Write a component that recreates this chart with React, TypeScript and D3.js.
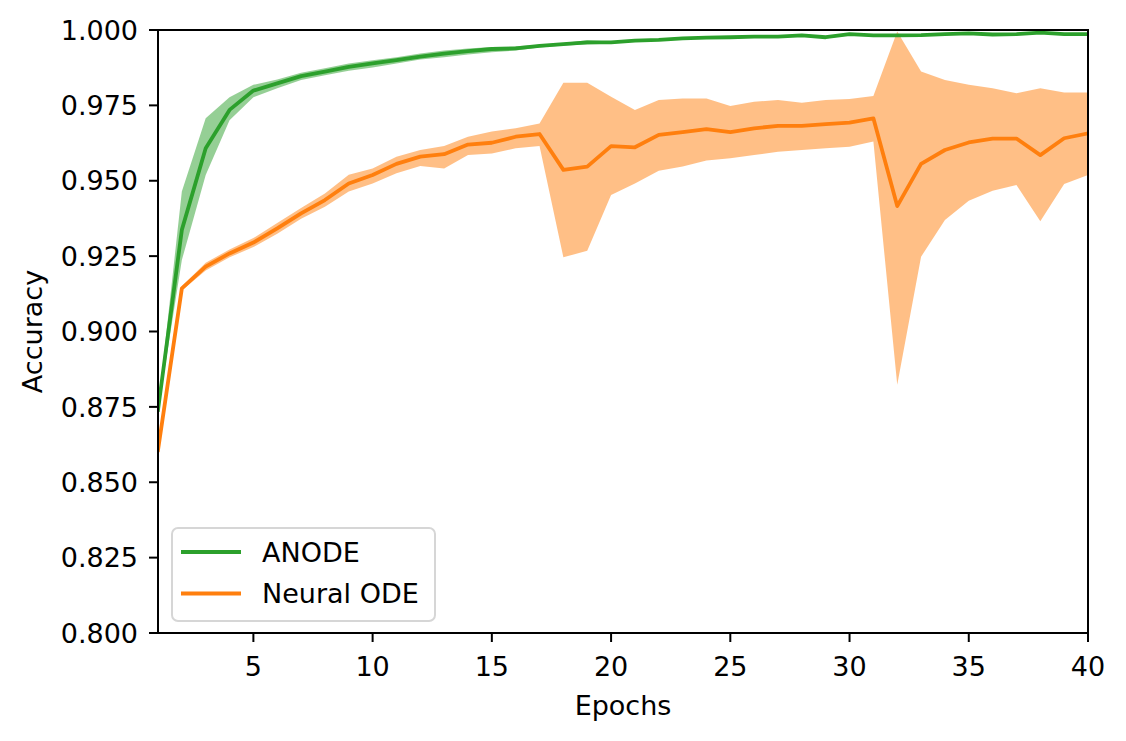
import React from 'react';
import * as d3 from 'd3';

// values
const epochs = d3.range(1, 41);

const anodeMean = [
  0.874, 0.9337, 0.9608, 0.9735, 0.9799, 0.9823, 0.9847, 0.9862, 0.9878, 0.9889,
  0.99, 0.9912, 0.9922, 0.993, 0.9937, 0.9939, 0.9947, 0.9953, 0.9959, 0.9959,
  0.9965, 0.9967, 0.9972, 0.9975, 0.9976, 0.9978, 0.9978, 0.9982, 0.9976, 0.9986,
  0.9982, 0.9982, 0.9983, 0.9986, 0.9989, 0.9985, 0.9986, 0.9991, 0.9986, 0.9986,
];
const anodeHigh = [
  0.8745, 0.9464, 0.9707, 0.9777, 0.9818, 0.9836, 0.9858, 0.9873, 0.9889, 0.99,
  0.991, 0.9922, 0.9932, 0.9939, 0.9944, 0.9946, 0.9951, 0.9957, 0.9966, 0.9962,
  0.9968, 0.997, 0.9975, 0.9978, 0.9979, 0.9981, 0.9981, 0.9985, 0.998, 0.9989,
  0.9985, 0.9985, 0.9986, 0.9989, 0.9992, 0.9988, 0.9989, 0.9994, 0.9989, 0.9989,
];
const anodeLow = [
  0.8735, 0.9237, 0.9519, 0.9701, 0.9777, 0.9807, 0.9834, 0.985, 0.9865, 0.9876,
  0.9889, 0.9902, 0.991, 0.9919, 0.9926, 0.9932, 0.9942, 0.9949, 0.9952, 0.9955,
  0.9961, 0.9964, 0.9969, 0.9972, 0.9973, 0.9975, 0.9975, 0.9979, 0.9972, 0.9983,
  0.9979, 0.9979, 0.998, 0.9983, 0.9986, 0.9982, 0.9983, 0.9988, 0.9983, 0.9983,
];

const nodeMean = [
  0.8607, 0.9143, 0.9215, 0.9259, 0.9295, 0.9342, 0.9392, 0.9436, 0.9491, 0.9519,
  0.9556, 0.958, 0.9588, 0.962, 0.9626, 0.9646, 0.9655, 0.9536, 0.9547, 0.9615,
  0.9611, 0.9652, 0.9661, 0.9671, 0.9661, 0.9674, 0.9682, 0.9682, 0.9688, 0.9693,
  0.9707, 0.9416, 0.9556, 0.9602, 0.9627, 0.964, 0.964, 0.9585, 0.9641, 0.9657,
];
const nodeHigh = [
  0.8612, 0.915, 0.9228, 0.9272, 0.931, 0.936, 0.941, 0.9458, 0.952, 0.9541,
  0.958, 0.9602, 0.9615, 0.9646, 0.9663, 0.9674, 0.969, 0.9825, 0.9825, 0.9779,
  0.9735, 0.9768, 0.9773, 0.9773, 0.9748, 0.9762, 0.9768, 0.9759, 0.9768, 0.9771,
  0.9781, 0.9995, 0.9862, 0.9834, 0.9818, 0.9807, 0.979, 0.9807, 0.9793, 0.9793,
];
const nodeLow = [
  0.8602, 0.9136, 0.9202, 0.9246, 0.928, 0.9324, 0.9374, 0.9414, 0.9464, 0.9491,
  0.9525, 0.9549, 0.9541, 0.9585, 0.959, 0.9608, 0.9615, 0.9246, 0.9268, 0.9453,
  0.9491, 0.9533, 0.9547, 0.9567, 0.9575, 0.9585, 0.9596, 0.9602, 0.9608, 0.9613,
  0.963, 0.8823, 0.9248, 0.937, 0.9434, 0.9467, 0.9486, 0.9366, 0.9489, 0.9519,
];

const xTicks = [5, 10, 15, 20, 25, 30, 35, 40];
const yTicks = [0.8, 0.825, 0.85, 0.875, 0.9, 0.925, 0.95, 0.975, 1.0];

interface Series {
  name: string;
  color: string;
  mean: number[];
  low: number[];
  high: number[];
}

const series: Series[] = [
  { name: 'ANODE', color: '#2ca02c', mean: anodeMean, low: anodeLow, high: anodeHigh },
  { name: 'Neural ODE', color: '#ff7f0e', mean: nodeMean, low: nodeLow, high: nodeHigh },
];

const W = 1126;
const H = 741;
const margin = { top: 30, right: 38, bottom: 108, left: 158 };
const font = 'DejaVu Sans, sans-serif';
const fs = 27;

const App: React.FC = () => {
  const x = d3.scaleLinear().domain([1, 40]).range([margin.left, W - margin.right]);
  const y = d3.scaleLinear().domain([0.8, 1.0]).range([H - margin.bottom, margin.top]);

  const area = (s: Series) =>
    d3.area<number>()
      .x((d) => x(d))
      .y0((_, i) => y(s.low[i]))
      .y1((_, i) => y(s.high[i]))(epochs) || '';

  const line = (s: Series) =>
    d3.line<number>()
      .x((d) => x(d))
      .y((_, i) => y(s.mean[i]))(epochs) || '';

  const [x0, x1] = x.range();
  const [y0, y1] = y.range();

  return (
    <div style={{ position: 'absolute', left: 0, top: 0 }}>
      <svg width={W} height={H} style={{ display: 'block', background: '#fff' }} fontFamily={font}>
        <defs>
          <clipPath id="plot">
            <rect x={x0} y={y1} width={x1 - x0} height={y0 - y1} />
          </clipPath>
        </defs>

        <g clipPath="url(#plot)">
          {series.map((s) => (
            <path key={s.name + '-band'} d={area(s)} fill={s.color} fillOpacity={0.5} stroke="none" />
          ))}
          {series.map((s) => (
            <path key={s.name + '-line'} d={line(s)} fill="none" stroke={s.color}
              strokeWidth={3.8} strokeLinejoin="round" strokeLinecap="square" />
          ))}
        </g>

        {/* x axis */}
        {xTicks.map((t) => (
          <g key={'x' + t}>
            <line x1={x(t)} x2={x(t)} y1={y0} y2={y0 + 9} stroke="#000" strokeWidth={2} />
            <text x={x(t)} y={y0 + 43} textAnchor="middle" fontSize={fs} fill="#000">{t}</text>
          </g>
        ))}
        {/* y axis */}
        {yTicks.map((t) => (
          <g key={'y' + t}>
            <line x1={x0 - 9} x2={x0} y1={y(t)} y2={y(t)} stroke="#000" strokeWidth={2} />
            <text x={x0 - 20} y={y(t)} dy="0.36em" textAnchor="end" fontSize={fs} fill="#000">
              {d3.format('.3f')(t)}
            </text>
          </g>
        ))}

        <rect x={x0} y={y1} width={x1 - x0} height={y0 - y1} fill="none" stroke="#000" strokeWidth={2} />

        <text x={(x0 + x1) / 2} y={715} textAnchor="middle" fontSize={fs} fill="#000">Epochs</text>
        <text transform={`translate(42,${(y0 + y1) / 2}) rotate(-90)`} textAnchor="middle" fontSize={fs} fill="#000">
          Accuracy
        </text>

        {/* legend */}
        <g>
          <rect x={172} y={528} width={263} height={93} rx={6} fill="#fff" fillOpacity={0.8}
            stroke="#d6d6d6" strokeWidth={2} />
          {series.map((s, i) => (
            <g key={s.name + '-legend'} transform={`translate(0,${552 + i * 41.5})`}>
              <line x1={181} x2={241} y1={0} y2={0} stroke={s.color} strokeWidth={3.8} />
              <text x={262} y={0} dy="0.36em" fontSize={fs} fill="#000">{s.name}</text>
            </g>
          ))}
        </g>
      </svg>
    </div>
  );
};

export default App;
